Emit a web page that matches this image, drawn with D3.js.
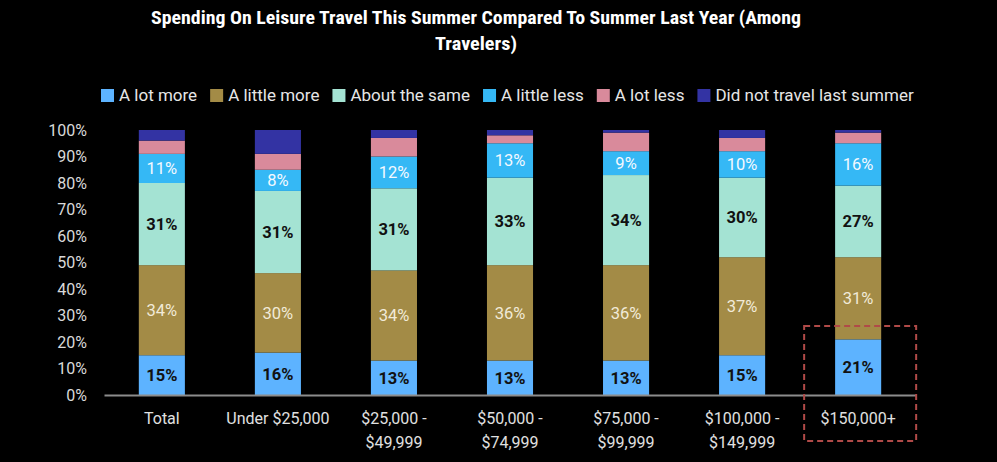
<!DOCTYPE html>
<html>
<head>
<meta charset="utf-8">
<script src="https://cdn.jsdelivr.net/npm/d3@7"></script>
<style>
  body { margin: 0; background: #000; }
  svg { display: block; font-family: Roboto, 'Liberation Sans', sans-serif; }
</style>
</head>
<body>
<div id="chart"></div>
<script>
// chart data
const title = ['Spending On Leisure Travel This Summer Compared To Summer Last Year (Among', 'Travelers)'];
const groups = ['Total', 'Under $25,000', '$25,000 - $49,999', '$50,000 - $74,999', '$75,000 - $99,999', '$100,000 - $149,999', '$150,000+'];
const groupLines = [['Total'], ['Under $25,000'], ['$25,000 -', '$49,999'], ['$50,000 -', '$74,999'], ['$75,000 -', '$99,999'], ['$100,000 -', '$149,999'], ['$150,000+']];
const seriesNames = ['A lot more', 'A little more', 'About the same', 'A little less', 'A lot less', 'Did not travel last summer'];
const aLotMore = [15, 16, 13, 13, 13, 15, 21];
const aLittleMore = [34, 30, 34, 36, 36, 37, 31];
const aboutSame = [31, 31, 31, 33, 34, 30, 27];
const aLittleLess = [11, 8, 12, 13, 9, 10, 16];
const aLotLess = [5, 6, 7, 3, 7, 5, 4];
const didNotTravel = [4, 9, 3, 2, 1, 3, 1];
const yTicks = [0, 10, 20, 30, 40, 50, 60, 70, 80, 90, 100];
const highlighted = '$150,000+';

const colors = ['#5db3ff', '#a38b46', '#a4e3d3', '#35b8f5', '#d98a9b', '#3333a3'];
// which series get a value label, and how it looks
const labelStyle = [
  { fill: '#111', weight: 700 },
  { fill: '#f1ead8', weight: 400 },
  { fill: '#111', weight: 700 },
  { fill: '#f4f8ff', weight: 400 },
  null,
  null
];

const seriesValues = [aLotMore, aLittleMore, aboutSame, aLittleLess, aLotLess, didNotTravel];
const table = groups.map((g, i) => {
  const row = { group: g };
  seriesNames.forEach((s, k) => (row[s] = seriesValues[k][i]));
  return row;
});

const W = 997, H = 462;
const margin = { top: 130, right: 81, bottom: 67, left: 104 };
const width = W - margin.left - margin.right;
const height = H - margin.top - margin.bottom;

const svg = d3.select('#chart').append('svg').attr('width', W).attr('height', H);
svg.append('rect').attr('width', W).attr('height', H).attr('fill', '#000');

// title (condensed bold, first line stretched to the width it has in the original)
svg.append('g')
  .selectAll('text')
  .data(title)
  .join('text')
  .attr('x', 476)
  .attr('y', (d, i) => 24 + i * 26)
  .attr('text-anchor', 'middle')
  .attr('fill', '#fff')
  .attr('textLength', (d, i) => (i === 0 ? 650 : 82))
  .attr('lengthAdjust', 'spacingAndGlyphs')
  .style('font-family', "'Liberation Sans Narrow', 'Roboto Condensed', 'Liberation Sans', sans-serif")
  .style('font-size', '18px')
  .style('font-weight', 700)
  .text((d) => d);

// legend
const legend = svg.append('g').attr('transform', 'translate(101,95)');
let lx = 0;
seriesNames.forEach((name, k) => {
  const item = legend.append('g').attr('transform', `translate(${lx},0)`);
  item.append('rect').attr('x', 0).attr('y', -6).attr('width', 13).attr('height', 13).attr('fill', colors[k]);
  const t = item.append('text')
    .attr('x', 18)
    .attr('y', 0)
    .attr('dy', '0.35em')
    .attr('fill', '#e6e6e6')
    .style('font-size', '17px')
    .text(name);
  lx += 18 + t.node().getComputedTextLength() + 13;
});

const g = svg.append('g').attr('transform', `translate(${margin.left},${margin.top})`);

const x = d3.scaleBand().domain(groups).range([0, width]).paddingInner(0.603).paddingOuter(0.3);
const y = d3.scaleLinear().domain([0, 100]).range([height, 0]);

const stack = d3.stack().keys(seriesNames);
const layers = stack(table);

// bars
g.selectAll('g.layer')
  .data(layers)
  .join('g')
  .attr('class', 'layer')
  .attr('fill', (d, k) => colors[k])
  .selectAll('rect')
  .data((d) => d)
  .join('rect')
  .attr('x', (d) => x(d.data.group))
  .attr('width', x.bandwidth())
  .attr('y', (d) => y(Math.min(100, d[1])))
  .attr('height', (d) => y(d[0]) - y(Math.min(100, d[1])));

// value labels
layers.forEach((layer, k) => {
  const st = labelStyle[k];
  if (!st) return;
  g.append('g')
    .selectAll('text')
    .data(layer)
    .join('text')
    .attr('x', (d) => x(d.data.group) + x.bandwidth() / 2)
    .attr('y', (d) => y((d[0] + d[1]) / 2))
    .attr('dy', '0.35em')
    .attr('text-anchor', 'middle')
    .attr('fill', st.fill)
    .style('font-size', '16.5px')
    .style('font-weight', st.weight)
    .text((d) => d[1] - d[0] + '%');
});

// y axis (labels only)
const yAxis = g.append('g')
  .call(d3.axisLeft(y).tickValues(yTicks).tickSize(0).tickPadding(17).tickFormat((d) => d + '%'));
yAxis.select('.domain').remove();
yAxis.selectAll('text').attr('fill', '#d9d9d9').style('font-size', '16px').style('font-family', 'Roboto, sans-serif');

// x axis
const xAxis = g.append('g')
  .attr('transform', `translate(0,${height})`)
  .call(d3.axisBottom(x).tickSize(0).tickFormat(''));
xAxis.select('.domain').attr('stroke', '#8c8c8c').attr('stroke-width', 2);
xAxis.selectAll('.tick').each(function (d) {
  const lines = groupLines[groups.indexOf(d)];
  const t = d3.select(this).append('text')
    .attr('fill', '#e0e0e0')
    .attr('text-anchor', 'middle')
    .style('font-size', '16px')
    .style('font-family', 'Roboto, sans-serif');
  lines.forEach((line, i) => {
    t.append('tspan').attr('x', 0).attr('y', 29 + i * 24).text(line);
  });
});

// highlight box around the last group
const hx = x(highlighted) + x.bandwidth() / 2;
g.append('rect')
  .attr('x', hx - 54)
  .attr('y', y(26))
  .attr('width', 112)
  .attr('height', 115)
  .attr('fill', 'none')
  .attr('stroke', '#b04a48')
  .attr('stroke-width', 2)
  .attr('stroke-dasharray', '6,4');
</script>
</body>
</html>
